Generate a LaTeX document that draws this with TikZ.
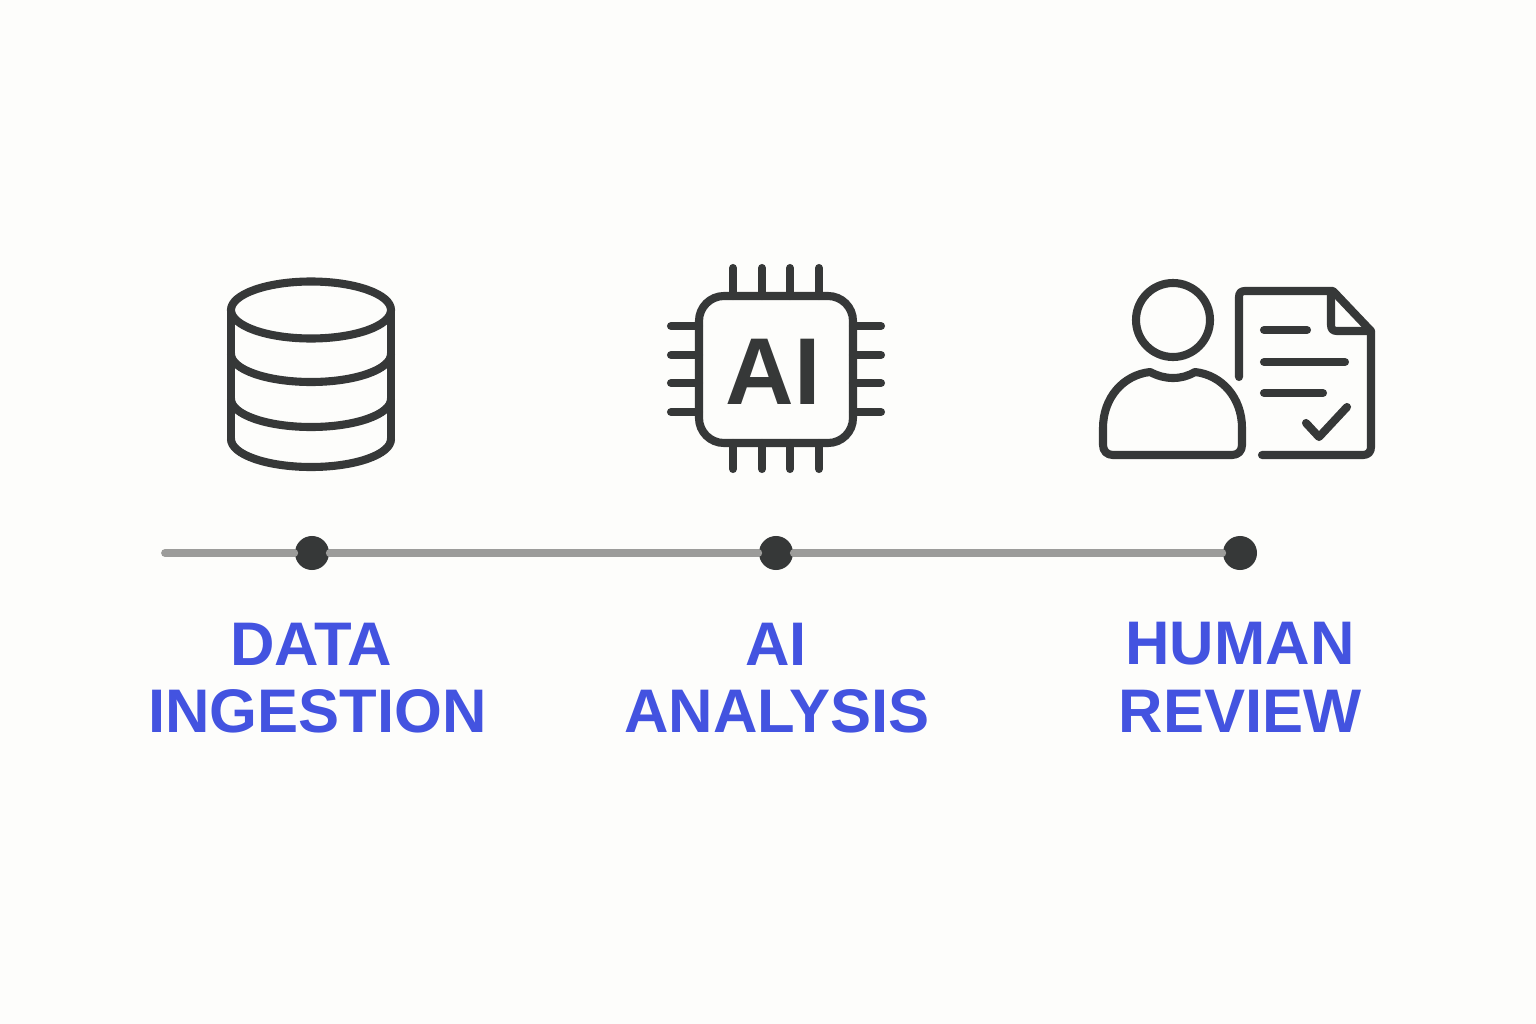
\documentclass[tikz,border=0pt]{standalone}
\usepackage{fontspec}
\setmainfont{Liberation Sans}
\definecolor{pagebg}{HTML}{FDFDFB}
\definecolor{icondark}{HTML}{363838}
\definecolor{railgray}{HTML}{9C9C9A}
\definecolor{labelblue}{HTML}{4353E0}
\tikzset{
    icon/.style={draw=icondark,line width=2.3pt,line cap=round,line join=round},
    stagedot/.style={circle,fill=icondark,minimum size=0.34cm,inner sep=0pt},
    stagelabel/.style={text=labelblue,font=\fontsize{17.5}{20}\selectfont\bfseries,inner sep=0pt},
    rail/.style={draw=railgray,line width=2.2pt,line cap=round},
}
\begin{document}
\begin{tikzpicture}[x=0.01cm,y=-0.01cm]
        \fill[pagebg] (0,0) rectangle (1536,1024);

        \draw[icon] (311,310) ellipse (80 and 28.5);
        \draw[icon] (231,310) -- (231,439);
        \draw[icon] (391,310) -- (391,439);
        \draw[icon] (231,354) arc[start angle=180,end angle=360,x radius=80,y radius=-28];
        \draw[icon] (231,399) arc[start angle=180,end angle=360,x radius=80,y radius=-28];
        \draw[icon] (231,439) arc[start angle=180,end angle=360,x radius=80,y radius=-28];

        \draw[icon,rounded corners=0.25cm] (699,296) rectangle (853,443);
        \node[text=icondark,font=\fontsize{27}{27}\selectfont\bfseries,inner sep=0pt] (chiptext) at (773,372) {AI};
        \draw[icon] (733,268) -- (733,296);
        \draw[icon] (762,268) -- (762,296);
        \draw[icon] (790,268) -- (790,296);
        \draw[icon] (819,268) -- (819,296);
        \draw[icon] (733,443) -- (733,469);
        \draw[icon] (762,443) -- (762,469);
        \draw[icon] (790,443) -- (790,469);
        \draw[icon] (819,443) -- (819,469);
        \draw[icon] (671,326) -- (699,326);
        \draw[icon] (671,355) -- (699,355);
        \draw[icon] (671,383) -- (699,383);
        \draw[icon] (671,412) -- (699,412);
        \draw[icon] (853,326) -- (881,326);
        \draw[icon] (853,355) -- (881,355);
        \draw[icon] (853,383) -- (881,383);
        \draw[icon] (853,412) -- (881,412);

        \draw[icon] (1173,320) circle (37);
        \draw[icon] (1113,455) -- (1232,455)
            .. controls (1238,455) and (1242,451) .. (1242,445)
            -- (1242,428)
            .. controls (1242,398) and (1222,375) .. (1195,372)
            .. controls (1188,376) and (1181,378) .. (1173,378)
            .. controls (1165,378) and (1158,376) .. (1150,372)
            .. controls (1123,375) and (1103,398) .. (1103,428)
            -- (1103,445)
            .. controls (1103,451) and (1107,455) .. (1113,455) -- cycle;

        \draw[icon] (1239,377) -- (1239,297)
            .. controls (1239,293) and (1241,291) .. (1245,291)
            -- (1333,291) -- (1371,331) -- (1371,447)
            .. controls (1371,452) and (1368,455) .. (1363,455)
            -- (1262,455);
        \draw[icon] (1331,293) -- (1331,325)
            .. controls (1331,329) and (1333,331) .. (1337,331)
            -- (1371,331);
        \draw[icon] (1264,330) -- (1307,330);
        \draw[icon] (1264,362) -- (1345,362);
        \draw[icon] (1264,393) -- (1323,393);
        \draw[icon] (1306,423) -- (1319,437) -- (1347,407);

        \coordinate (railstart) at (165,553);
        \node[stagedot] (dataDot) at (312,553) {};
        \node[stagedot] (aiDot) at (776,553) {};
        \node[stagedot] (humanDot) at (1240,553) {};
        \begin{scope}[on background layer/.style={}]
        \end{scope}
        \draw[rail] (railstart) -- (dataDot);
        \draw[rail] (dataDot) -- (aiDot);
        \draw[rail] (aiDot) -- (humanDot);

        \node[stagelabel] (dataLabel) at (311,644) {DATA};
        \node[stagelabel] (ingestLabel) at (317.5,711) {INGESTION};
        \node[stagelabel] (aiLabel) at (776,644) {AI};
        \node[stagelabel] (analysisLabel) at (777,711) {ANALYSIS};
        \node[stagelabel] (humanLabel) at (1240,644) {HUMAN};
        \node[stagelabel] (reviewLabel) at (1240,711) {REVIEW};
\end{tikzpicture}
\end{document}
